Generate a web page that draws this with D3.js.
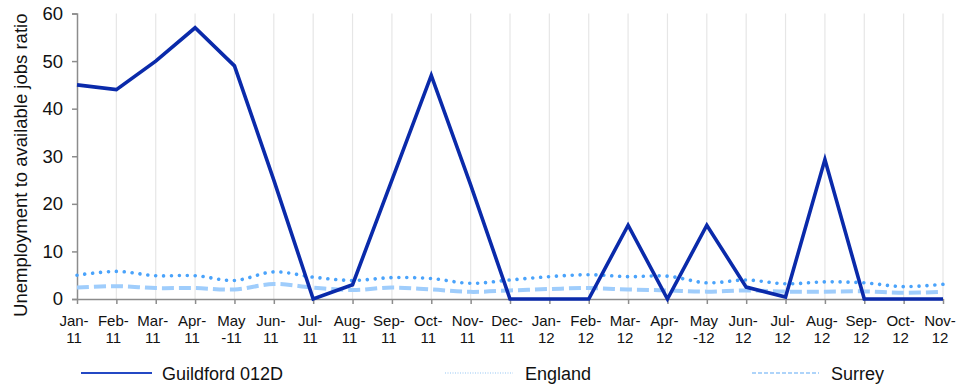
<!DOCTYPE html>
<html>
<head>
<meta charset="utf-8">
<script src="https://cdn.jsdelivr.net/npm/d3@7"></script>
<style>
  html, body { margin: 0; padding: 0; background: #fff; }
  svg { display: block; font-family: "Liberation Sans", Arial, sans-serif; }
</style>
</head>
<body>
<svg id="chart" width="957" height="385"></svg>
<script>
// Monthly categories, Jan 2011 to Nov 2012
const months = ["Jan-11","Feb-11","Mar-11","Apr-11","May-11","Jun-11","Jul-11","Aug-11","Sep-11","Oct-11","Nov-11","Dec-11",
                "Jan-12","Feb-12","Mar-12","Apr-12","May-12","Jun-12","Jul-12","Aug-12","Sep-12","Oct-12","Nov-12"];
// Wrapped two-line tick labels
const labelTop = ["Jan-","Feb-","Mar-","Apr-","May","Jun-","Jul-","Aug-","Sep-","Oct-","Nov-","Dec-",
                  "Jan-","Feb-","Mar-","Apr-","May","Jun-","Jul-","Aug-","Sep-","Oct-","Nov-"];
const labelBottom = ["11","11","11","11","-11","11","11","11","11","11","11","11",
                     "12","12","12","12","-12","12","12","12","12","12","12"];

// Unemployment to available jobs ratio
const guildford = [45, 44, 50, 57, 49, 25, 0, 3, 25, 47, 24, 0,
                   0, 0, 15.5, 0, 15.5, 2.5, 0.4, 29.3, 0, 0, 0];
const england = [5.0, 5.8, 4.9, 4.9, 3.9, 5.7, 4.6, 3.9, 4.5, 4.3, 3.3, 4.0,
                 4.7, 5.1, 4.7, 4.8, 3.4, 4.0, 3.2, 3.6, 3.4, 2.6, 3.1];
const surrey = [2.4, 2.7, 2.3, 2.3, 2.0, 3.15, 2.4, 1.9, 2.4, 2.0, 1.5, 1.8,
                2.1, 2.3, 2.0, 1.8, 1.55, 1.8, 1.55, 1.55, 1.6, 1.3, 1.5];
const yTicks = [0, 10, 20, 30, 40, 50, 60];

const svg = d3.select("#chart");
const plotLeft = 77, plotRight = 943, plotTop = 13.5, plotBottom = 299;

const x = d3.scalePoint().domain(months).range([plotLeft, plotRight]);
const y = d3.scaleLinear().domain([0, 60]).range([plotBottom, plotTop]);

// vertical gridlines
svg.append("g")
  .selectAll("line")
  .data(months.slice(1))
  .join("line")
  .attr("x1", d => x(d)).attr("x2", d => x(d))
  .attr("y1", plotTop).attr("y2", plotBottom)
  .attr("stroke", "#e6e6e6").attr("stroke-width", 1.2);

// y axis
const yAxis = svg.append("g")
  .attr("transform", `translate(${plotLeft},0)`)
  .call(d3.axisLeft(y).tickValues(yTicks).tickSize(5).tickPadding(9).tickFormat(d3.format("d")));
yAxis.select(".domain").attr("stroke", "#8c8c8c").attr("stroke-width", 1.5);
yAxis.selectAll(".tick line").attr("stroke", "#8c8c8c").attr("stroke-width", 1.5);
yAxis.selectAll(".tick text").attr("font-size", 18.5).attr("fill", "#111")
  .attr("font-family", "Liberation Sans, Arial, sans-serif");

// x axis
const xAxis = svg.append("g")
  .attr("transform", `translate(0,${plotBottom})`)
  .call(d3.axisBottom(x).tickSize(5).tickSizeOuter(0).tickFormat(""));
xAxis.select(".domain").attr("stroke", "#8c8c8c").attr("stroke-width", 1.5);
xAxis.selectAll(".tick line").attr("stroke", "#8c8c8c").attr("stroke-width", 1.5);

const xl = svg.append("g").attr("font-size", 15).attr("fill", "#111").attr("text-anchor", "middle");
months.forEach((m, i) => {
  const t = xl.append("text").attr("x", x(m) - 3);
  t.append("tspan").attr("x", x(m) - 3).attr("y", 326).text(labelTop[i]);
  t.append("tspan").attr("x", x(m) - 3).attr("y", 343).text(labelBottom[i]);
});

// y axis title
svg.append("text")
  .attr("transform", `translate(27,${(plotTop + plotBottom) / 2 + 9}) rotate(-90)`)
  .attr("text-anchor", "middle")
  .attr("font-size", 18.5)
  .attr("fill", "#111")
  .text("Unemployment to available jobs ratio");

const smooth = d3.line().x((d, i) => x(months[i])).y(d => y(d)).curve(d3.curveCatmullRom);
const straight = d3.line().x((d, i) => x(months[i])).y(d => y(d));

// Surrey (dashed)
svg.append("path").datum(surrey)
  .attr("d", smooth).attr("fill", "none")
  .attr("stroke", "#9fcdfc").attr("stroke-width", 4)
  .attr("stroke-dasharray", "12 5");

// England (dotted)
svg.append("path").datum(england)
  .attr("d", smooth).attr("fill", "none")
  .attr("stroke", "#4aa3fb").attr("stroke-width", 3.6)
  .attr("stroke-linecap", "round")
  .attr("stroke-dasharray", "0.01 7.9");

// Guildford 012D
svg.append("path").datum(guildford)
  .attr("d", straight).attr("fill", "none")
  .attr("stroke", "#0a2aaa").attr("stroke-width", 3.6)
  .attr("stroke-linejoin", "miter");

// legend
const legendY = 373;
const legend = [
  { name: "Guildford 012D", x0: 81, x1: 152, tx: 162, color: "#2448c4", dash: null, w: 2.2, op: 1 },
  { name: "England", x0: 445, x1: 513, tx: 525, color: "#9ccbf5", dash: "1 1.5", w: 1.5, op: 0.7 },
  { name: "Surrey", x0: 752, x1: 819, tx: 831, color: "#a6d0fa", dash: "4 2", w: 2, op: 0.9 }
];
const lg = svg.append("g");
legend.forEach(l => {
  const ln = lg.append("line")
    .attr("x1", l.x0).attr("x2", l.x1).attr("y1", legendY).attr("y2", legendY)
    .attr("stroke", l.color).attr("stroke-width", l.w).attr("opacity", l.op);
  if (l.dash) ln.attr("stroke-dasharray", l.dash);
  lg.append("text").attr("x", l.tx).attr("y", legendY + 6.5)
    .attr("font-size", 18).attr("fill", "#111").text(l.name);
});
</script>
</body>
</html>
